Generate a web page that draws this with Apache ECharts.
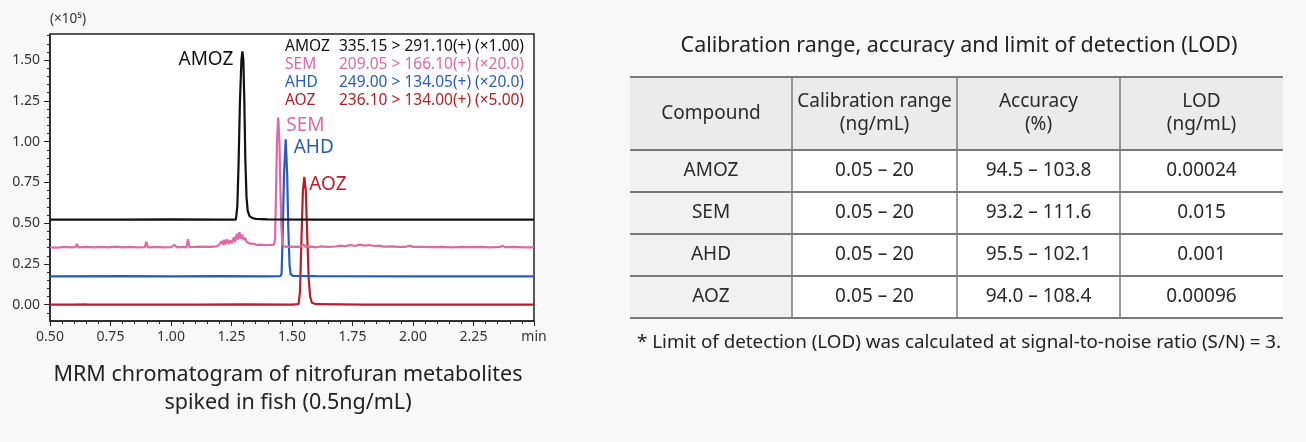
<!DOCTYPE html>
<html lang="en">
<head>
    <meta charset="UTF-8">
    <script src="https://cdn.jsdelivr.net/npm/echarts@6/dist/echarts.min.js"></script>
    <title>MRM chromatogram</title>
    <style>
        html, body { margin: 0; padding: 0; background: #f8f8f8; }
    </style>
</head>
<body>
    <div id="main" style="width:1306px;height:442px"></div>
    <script>
        // chromatogram traces, [time (min), intensity (x10^5)]
        var amoz = [[0.50,0.522],[0.80,0.522],[1.00,0.523],[1.20,0.522],[1.268,0.522],[1.274,0.60],[1.279,0.85],[1.285,1.25],
            [1.291,1.50],[1.295,1.553],[1.299,1.50],[1.303,1.25],[1.307,0.90],[1.312,0.66],[1.317,0.575],[1.324,0.545],
            [1.335,0.532],[1.35,0.526],[1.40,0.523],[1.60,0.522],[2.00,0.522],[2.50,0.522]];
        var sem = [[0.50,0.352],[0.53,0.350],[0.56,0.354],[0.59,0.351],[0.605,0.353],[0.611,0.372],[0.617,0.352],[0.65,0.355],
            [0.68,0.351],[0.71,0.355],[0.74,0.352],[0.77,0.356],[0.80,0.351],[0.83,0.354],[0.86,0.352],[0.892,0.353],
            [0.898,0.386],[0.904,0.352],[0.94,0.354],[0.97,0.351],[1.00,0.353],[1.015,0.366],[1.025,0.352],[1.05,0.354],
            [1.064,0.352],[1.070,0.402],[1.076,0.353],[1.10,0.354],[1.13,0.356],[1.16,0.355],[1.19,0.358],[1.20,0.37],
            [1.205,0.362],[1.21,0.39],[1.215,0.368],[1.22,0.398],[1.225,0.37],[1.232,0.40],[1.238,0.372],[1.245,0.395],
            [1.252,0.375],[1.26,0.415],[1.265,0.385],[1.272,0.435],[1.277,0.40],[1.283,0.445],[1.288,0.405],[1.294,0.43],
            [1.30,0.395],[1.306,0.41],[1.313,0.385],[1.32,0.39],[1.33,0.372],[1.34,0.375],[1.355,0.366],[1.37,0.368],
            [1.385,0.365],[1.40,0.366],[1.415,0.367],[1.425,0.368],[1.430,0.40],[1.434,0.70],[1.438,1.0],[1.443,1.147],
            [1.448,1.0],[1.452,0.72],[1.456,0.48],[1.460,0.38],[1.466,0.358],[1.48,0.355],[1.50,0.356],[1.53,0.354],
            [1.55,0.368],[1.555,0.355],[1.58,0.356],[1.60,0.352],[1.62,0.358],[1.65,0.354],[1.68,0.357],[1.70,0.362],
            [1.72,0.358],[1.74,0.366],[1.76,0.36],[1.78,0.368],[1.80,0.362],[1.82,0.366],[1.84,0.36],[1.86,0.362],
            [1.88,0.356],[1.91,0.358],[1.94,0.354],[1.97,0.355],[1.99,0.362],[2.00,0.354],[2.04,0.355],[2.08,0.353],
            [2.12,0.355],[2.16,0.352],[2.20,0.354],[2.24,0.353],[2.28,0.354],[2.32,0.352],[2.36,0.354],[2.37,0.362],
            [2.38,0.353],[2.42,0.354],[2.46,0.352],[2.50,0.352]];
        var ahd = [[0.50,0.174],[0.80,0.175],[1.00,0.174],[1.20,0.175],[1.40,0.174],[1.452,0.175],[1.457,0.19],[1.462,0.45],
            [1.467,0.80],[1.474,1.014],[1.480,0.80],[1.485,0.45],[1.490,0.24],[1.495,0.185],[1.505,0.176],[1.60,0.175],
            [2.00,0.174],[2.50,0.174]];
        var aoz = [[0.50,0.0],[0.60,0.0],[0.645,0.002],[0.65,0.01],[0.655,0.001],[0.80,0.0],[1.00,0.001],[1.105,0.0],
            [1.11,0.012],[1.115,0.0],[1.30,0.002],[1.50,0.001],[1.527,0.003],[1.533,0.08],[1.539,0.40],[1.545,0.70],
            [1.551,0.784],[1.557,0.70],[1.563,0.42],[1.569,0.16],[1.575,0.05],[1.582,0.012],[1.60,0.003],[1.80,0.001],
            [2.00,0.0],[2.365,0.0],[2.37,0.012],[2.375,0.0],[2.50,0.0]];

        var traceNames = ['AMOZ', 'SEM', 'AHD', 'AOZ'];
        var traceColors = ['#111111', '#e068a6', '#2a5cb6', '#b3202b'];
        var transitions = ['335.15 > 291.10(+) (×1.00)', '209.05 > 166.10(+) (×20.0)',
                           '249.00 > 134.05(+) (×20.0)', '236.10 > 134.00(+) (×5.00)'];
        var peaks = [[1.295, 1.553], [1.443, 1.147], [1.474, 1.014], [1.551, 0.784]];

        var yLabels = [0, 0.25, 0.5, 0.75, 1.0, 1.25, 1.5];
        var yMinor = [-0.05, 0, 0.05, 0.1, 0.15, 0.2, 0.25, 0.3, 0.35, 0.4, 0.45, 0.5, 0.55, 0.6, 0.65, 0.7, 0.75,
                      0.8, 0.85, 0.9, 0.95, 1.0, 1.05, 1.1, 1.15, 1.2, 1.25, 1.3, 1.35, 1.4, 1.45, 1.5, 1.55, 1.6, 1.65];

        // table
        var tableTitle = 'Calibration range, accuracy and limit of detection (LOD)';
        var headers = ['Compound', 'Calibration range\n(ng/mL)', 'Accuracy\n(%)', 'LOD\n(ng/mL)'];
        var compounds = ['AMOZ', 'SEM', 'AHD', 'AOZ'];
        var calRange = ['0.05 – 20', '0.05 – 20', '0.05 – 20', '0.05 – 20'];
        var accuracy = ['94.5 – 103.8', '93.2 – 111.6', '95.5 – 102.1', '94.0 – 108.4'];
        var lod = ['0.00024', '0.015', '0.001', '0.00096'];
        var footnote = '* Limit of detection (LOD) was calculated at signal-to-noise ratio (S/N) = 3.';
        var caption = 'MRM chromatogram of nitrofuran metabolites\nspiked in fish (0.5ng/mL)';

        var FONT = '"Noto Sans", sans-serif';
        var traces = [amoz, sem, ahd, aoz];

        function draw() {
            var chart = echarts.init(document.getElementById('main'));

            var series = traces.map(function (d, i) {
                var lbl = i === 0
                    ? { position: 'left', distance: 9, offset: [0, 8] }
                    : { position: 'right', distance: i === 3 ? 5 : 8, offset: [0, 8] };
                return {
                    name: traceNames[i],
                    type: 'line',
                    data: d,
                    showSymbol: false,
                    z: 10 - i,
                    lineStyle: { color: traceColors[i], width: 2.2 },
                    markPoint: {
                        symbol: 'circle',
                        symbolSize: 0,
                        silent: true,
                        data: [{ name: traceNames[i], coord: peaks[i] }],
                        label: Object.assign({
                            show: true,
                            formatter: '{b}',
                            color: traceColors[i],
                            fontSize: 19,
                            fontFamily: FONT
                        }, lbl)
                    }
                };
            });

            var graphics = [];
            graphics.push({ type: 'text', left: 50, top: 12,
                style: { text: '(×10⁵)', font: '13.5px ' + FONT, fill: '#333' } });

            // peak legend in upper right
            traceNames.forEach(function (n, i) {
                var y = 47 + i * 18;
                graphics.push({ type: 'text', x: 285, y: y,
                    style: { text: n, font: '15.5px ' + FONT, fill: traceColors[i], verticalAlign: 'middle' } });
                graphics.push({ type: 'text', x: 339, y: y,
                    style: { text: transitions[i], font: '15.5px ' + FONT, fill: traceColors[i], verticalAlign: 'middle' } });
            });

            graphics.push({ type: 'text', x: 288, y: 389,
                style: { text: caption, font: '21.5px ' + FONT, fill: '#222', align: 'center',
                         verticalAlign: 'middle', lineHeight: 28 } });

            // table built from the arrays
            var colX = [630, 792, 957, 1120, 1283];
            var rowY = [77, 150, 192, 234, 276, 318];
            var cols = [compounds, calRange, accuracy, lod];
            graphics.push({ type: 'text', x: 959, y: 46,
                style: { text: tableTitle, font: '21.5px ' + FONT, fill: '#222', align: 'center', verticalAlign: 'middle' } });
            for (var r = 0; r < rowY.length - 1; r++) {
                for (var c = 0; c < cols.length; c++) {
                    var bg = (r === 0 || c === 0) ? (r === 0 ? '#ebebeb' : '#f1f1f1') : '#ffffff';
                    graphics.push({ type: 'rect', z: 1,
                        shape: { x: colX[c], y: rowY[r], width: colX[c + 1] - colX[c], height: rowY[r + 1] - rowY[r] },
                        style: { fill: bg } });
                    var txt = r === 0 ? headers[c] : cols[c][r - 1];
                    graphics.push({ type: 'text', z: 3,
                        x: (colX[c] + colX[c + 1]) / 2, y: (rowY[r] + rowY[r + 1]) / 2,
                        style: { text: txt, font: '19px ' + FONT, fill: '#2a2a2a', align: 'center',
                                 verticalAlign: 'middle', lineHeight: 23 } });
                }
            }
            rowY.forEach(function (y) {
                graphics.push({ type: 'line', z: 2, shape: { x1: colX[0], y1: y, x2: colX[4], y2: y },
                    style: { stroke: '#7a7a7a', lineWidth: 2 } });
            });
            [1, 2, 3].forEach(function (k) {
                graphics.push({ type: 'line', z: 2, shape: { x1: colX[k], y1: rowY[0], x2: colX[k], y2: rowY[5] },
                    style: { stroke: '#7a7a7a', lineWidth: 1.5 } });
            });
            graphics.push({ type: 'text', x: 637, y: 343,
                style: { text: footnote, font: '18.8px ' + FONT, fill: '#222', verticalAlign: 'middle' } });

            var option = {
                animation: false,
                backgroundColor: '#f8f8f8',
                textStyle: { fontFamily: FONT },
                grid: {
                    left: 50, top: 34, width: 484, height: 287,
                    show: true, backgroundColor: '#ffffff', borderColor: '#222', borderWidth: 1.5
                },
                xAxis: {
                    type: 'value',
                    min: 0.5, max: 2.5, interval: 0.25,
                    axisLine: { show: true, onZero: false, lineStyle: { color: '#222', width: 1.5 } },
                    axisTick: { show: true, inside: false, length: 5, lineStyle: { color: '#222' } },
                    minorTick: { show: true, splitNumber: 5, length: 3, lineStyle: { color: '#222' } },
                    splitLine: { show: false },
                    axisLabel: {
                        showMaxLabel: true, margin: 9, fontSize: 14, color: '#333',
                        formatter: function (v) { return Math.abs(v - 2.5) < 1e-6 ? 'min' : v.toFixed(2); }
                    }
                },
                yAxis: [{
                    type: 'value',
                    min: -0.1, max: 1.66,
                    axisLine: { show: true, onZero: false, lineStyle: { color: '#222', width: 1.5 } },
                    axisTick: { show: true, length: 6, customValues: yLabels, lineStyle: { color: '#222' } },
                    splitLine: { show: false },
                    axisLabel: {
                        customValues: yLabels, margin: 10, fontSize: 14, color: '#333',
                        formatter: function (v) { return v.toFixed(2); }
                    }
                }, {
                    type: 'value',
                    position: 'left',
                    min: -0.1, max: 1.66,
                    axisLine: { show: false },
                    axisTick: { show: true, length: 3, customValues: yMinor, lineStyle: { color: '#222' } },
                    splitLine: { show: false },
                    axisLabel: { show: false }
                }],
                graphic: graphics,
                series: series
            };
            chart.setOption(option);
        }
        draw();
    </script>
</body>
</html>
